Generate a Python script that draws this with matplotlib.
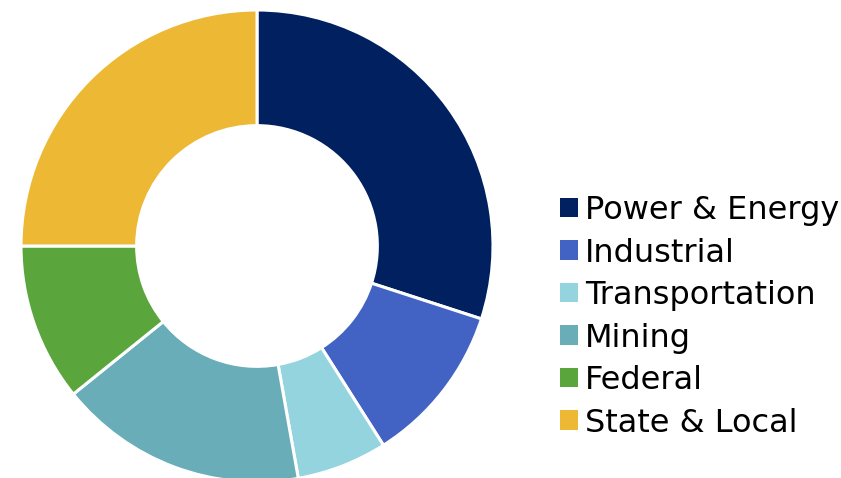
import matplotlib.pyplot as plt

sectors = ['Power & Energy', 'Industrial', 'Transportation', 'Mining', 'Federal', 'State & Local']
shares = [30, 11, 6.2, 17, 10.8, 25]
colors = ['#002060', '#4263C4', '#94D4DF', '#69ADB9', '#5AA63C', '#EDB934']

W, H = 841, 478
fig = plt.figure(figsize=(W / 100, H / 100), dpi=100)

cx, cy, r = 257, 246, 236
ax = fig.add_axes([(cx - r) / W, (H - cy - r) / H, 2 * r / W, 2 * r / H])
wedges, _ = ax.pie(shares, colors=colors, startangle=90, counterclock=False,
                   radius=1, wedgeprops=dict(width=0.49, edgecolor='white', linewidth=2.2))
ax.set_xlim(-1, 1)
ax.set_ylim(-1, 1)
ax.set_aspect('equal')
ax.axis('off')

leg = fig.legend(wedges, sectors, loc='upper left', bbox_to_anchor=(560 / W, 1 - 195 / H),
                 frameon=False, fontsize=23, handlelength=0.56, handleheight=0.56,
                 handletextpad=0.22, labelspacing=0.36, borderaxespad=0, borderpad=0)
for h in leg.legend_handles:
    h.set_edgecolor('none')

fig.savefig('out.png', dpi=100)
